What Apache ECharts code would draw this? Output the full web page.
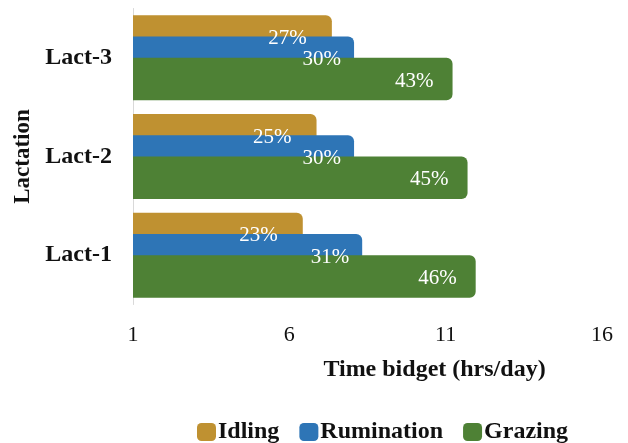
<!DOCTYPE html>
<html>
<head>
<meta charset="utf-8">
<script src="https://cdn.jsdelivr.net/npm/echarts@6/dist/echarts.min.js"></script>
<style>
  html, body { margin: 0; padding: 0; background: #fff; }
  #chart { width: 628px; height: 443px; }
</style>
</head>
<body>
<div id="chart"></div>
<script>
// Lactation groups, bottom to top
const categories = ['Lact-1', 'Lact-2', 'Lact-3'];
const seriesNames = ['Idling', 'Rumination', 'Grazing'];

// Daily time budget per activity (hrs/day)
const idlingHrs = [5.43, 5.87, 6.36];
const ruminationHrs = [7.33, 7.07, 7.07];
const grazingHrs = [10.96, 10.70, 10.22];

// Horizontal axis ticks
const axisMin = 1;
const axisMax = 16;
const axisStep = 5;

const colors = ['#BF9131', '#2E75B6', '#4E8135'];
const serif = '"Liberation Serif", "Times New Roman", serif';

// Bars sit on the axis start, so the plotted end is start + hours
const toAxis = arr => arr.map(v => axisMin + v);

// Share of the day's total for each lactation group
const totals = categories.map((_, i) => idlingHrs[i] + ruminationHrs[i] + grazingHrs[i]);
const share = (arr) => (p) => Math.round(100 * arr[p.dataIndex] / totals[p.dataIndex]) + '%';

const allHrs = [idlingHrs, ruminationHrs, grazingHrs];
const labelDist = [25, 13, 19];

const chart = echarts.init(document.getElementById('chart'), null, { renderer: 'canvas' });

chart.setOption({
  animation: false,
  textStyle: { fontFamily: serif },
  grid: { left: 133, right: 26, top: 8.5, bottom: 138.5, containLabel: false },
  legend: {
    data: seriesNames,
    left: 192,
    top: 415,
    icon: 'roundRect',
    itemWidth: 19,
    itemHeight: 18,
    itemGap: 20,
    textStyle: { fontFamily: serif, fontWeight: 'bold', fontSize: 24, color: '#111', padding: [2, 0, 0, -3] }
  },
  xAxis: {
    type: 'value',
    min: axisMin,
    max: axisMax,
    interval: axisStep,
    axisLine: { show: false },
    axisTick: { show: false },
    splitLine: { show: false },
    axisLabel: { fontFamily: serif, fontSize: 22, color: '#111', margin: 20 },
    name: 'Time bidget (hrs/day)',
    nameLocation: 'middle',
    nameGap: 53,
    nameTextStyle: { fontFamily: serif, fontWeight: 'bold', fontSize: 24, color: '#111', padding: [0, 0, 0, 134] }
  },
  yAxis: {
    type: 'category',
    data: categories,
    axisLine: { show: true, lineStyle: { color: '#D9D9D9', width: 1 } },
    axisTick: { show: false },
    splitLine: { show: false },
    axisLabel: { fontFamily: serif, fontWeight: 'bold', fontSize: 24, color: '#111', margin: 21 },
    name: 'Lactation',
    nameLocation: 'middle',
    nameGap: 93,
    nameRotate: 90,
    nameTextStyle: { fontFamily: serif, fontWeight: 'bold', fontSize: 23, color: '#111' }
  },
  series: seriesNames.map((name, k) => ({
    name: name,
    type: 'bar',
    data: toAxis(allHrs[k]),
    barWidth: 42.5,
    barGap: '-50%',
    clip: true,
    itemStyle: { color: colors[k], borderRadius: [0, 6, 6, 0] },
    label: {
      show: true,
      position: 'insideRight',
      distance: labelDist[k],
      offset: [0, 2],
      formatter: share(allHrs[k]),
      fontFamily: serif,
      fontSize: 21,
      color: '#fff'
    }
  }))
});
</script>
</body>
</html>
